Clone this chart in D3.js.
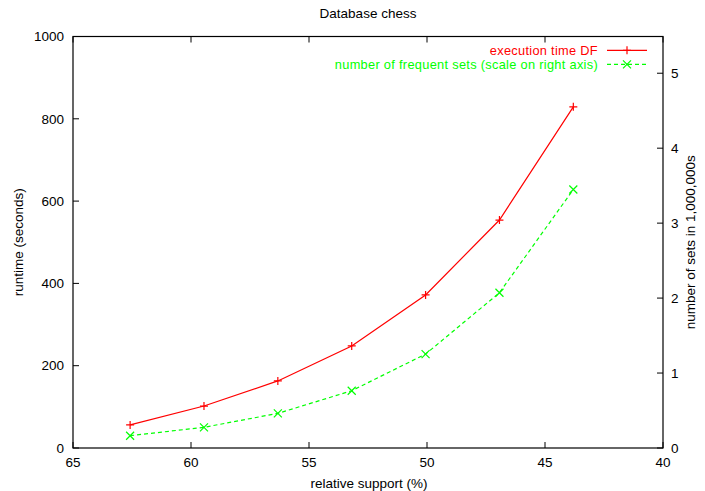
<!DOCTYPE html>
<html><head><meta charset="utf-8">
<script src="https://cdn.jsdelivr.net/npm/d3@7"></script>
<style>body{margin:0;background:#fff}svg{display:block}text{font-family:"Liberation Sans",Arial,sans-serif}</style>
</head><body><svg id="c" width="705" height="491"></svg>
<script>
const support = [62.58, 59.45, 56.32, 53.19, 50.06, 46.93, 43.80];
const runtime = [56, 102, 163, 248, 372, 554, 829];
const freqSets = [0.164, 0.276, 0.462, 0.764, 1.253, 2.071, 3.449];
const xTicks = [65, 60, 55, 50, 45, 40];
const yTicks = [0, 200, 400, 600, 800, 1000];
const y2Ticks = [0, 1, 2, 3, 4, 5];
const title = "Database chess";
const xLabel = "relative support (%)";
const yLabel = "runtime (seconds)";
const y2Label = "number of sets in 1,000,000s";
const seriesNames = ["execution time DF", "number of frequent sets (scale on right axis)"];

const svg = d3.select("#c");
const L = 73, R = 663, T = 36.5, B = 448;
const fs = 13.5;
const x = d3.scaleLinear().domain([65, 40]).range([L, R]);
const y = d3.scaleLinear().domain([0, 1000]).range([B, T]);
const y2 = d3.scaleLinear().domain([0, 5.49]).range([B, T]);
const tick = 6;

const g = svg.append("g");
xTicks.forEach(v => {
  g.append("line").attr("x1", x(v)).attr("x2", x(v)).attr("y1", B).attr("y2", B - tick).attr("stroke", "#000");
  g.append("line").attr("x1", x(v)).attr("x2", x(v)).attr("y1", T).attr("y2", T + tick).attr("stroke", "#000");
  g.append("text").attr("x", x(v)).attr("y", B + 14).attr("dy", "0.35em").attr("text-anchor", "middle").attr("font-size", fs).text(v);
});
yTicks.forEach(v => {
  g.append("line").attr("x1", L).attr("x2", L + tick).attr("y1", y(v)).attr("y2", y(v)).attr("stroke", "#000");
  g.append("text").attr("x", L - 9).attr("y", y(v)).attr("dy", "0.35em").attr("text-anchor", "end").attr("font-size", fs).text(v);
});
y2Ticks.forEach(v => {
  g.append("line").attr("x1", R).attr("x2", R - tick).attr("y1", y2(v)).attr("y2", y2(v)).attr("stroke", "#000");
  g.append("text").attr("x", R + 8).attr("y", y2(v)).attr("dy", "0.35em").attr("text-anchor", "start").attr("font-size", fs).text(v);
});
g.append("rect").attr("x", L).attr("y", T).attr("width", R - L).attr("height", B - T).attr("fill", "none").attr("stroke", "#000").attr("stroke-width", 1.2);

svg.append("text").attr("x", 368).attr("y", 13).attr("dy", "0.35em").attr("text-anchor", "middle").attr("font-size", fs).text(title);
svg.append("text").attr("x", 369).attr("y", 483).attr("dy", "0.35em").attr("text-anchor", "middle").attr("font-size", fs).text(xLabel);
svg.append("text").attr("transform", `translate(18,${(T + B) / 2}) rotate(-90)`).attr("dy", "0.35em").attr("text-anchor", "middle").attr("font-size", fs).text(yLabel);
svg.append("text").attr("transform", `translate(690,${(T + B) / 2}) rotate(-90)`).attr("dy", "0.35em").attr("text-anchor", "middle").attr("font-size", fs).text(y2Label);

const red = "#ff0000", green = "#00ff00";
const plus = (sel, cx, cy, c) => {
  sel.append("path").attr("d", `M${cx - 4},${cy}H${cx + 4}M${cx},${cy - 4}V${cy + 4}`).attr("stroke", c).attr("stroke-width", 1.2).attr("fill", "none");
};
const cross = (sel, cx, cy, c) => {
  sel.append("path").attr("d", `M${cx - 4},${cy - 4}L${cx + 4},${cy + 4}M${cx - 4},${cy + 4}L${cx + 4},${cy - 4}`).attr("stroke", c).attr("stroke-width", 1.2).attr("fill", "none");
};

const d1 = support.map((s, i) => [x(s), y(runtime[i])]);
const d2 = support.map((s, i) => [x(s), y2(freqSets[i])]);
svg.append("path").attr("d", d3.line()(d1)).attr("stroke", red).attr("fill", "none").attr("stroke-width", 1.2);
svg.append("path").attr("d", d3.line()(d2)).attr("stroke", green).attr("fill", "none").attr("stroke-width", 1.2).attr("stroke-dasharray", "4,3");
d1.forEach(p => plus(svg, p[0], p[1], red));
d2.forEach(p => cross(svg, p[0], p[1], green));

const ly = [50.3, 64.3];
const lfs = 12.8;
svg.append("text").attr("x", 598).attr("y", ly[0]).attr("dy", "0.35em").attr("text-anchor", "end").attr("font-size", lfs).attr("letter-spacing", 0.3).attr("fill", red).text(seriesNames[0]);
svg.append("text").attr("x", 598).attr("y", ly[1]).attr("dy", "0.35em").attr("text-anchor", "end").attr("font-size", lfs).attr("letter-spacing", 0.3).attr("fill", green).text(seriesNames[1]);
svg.append("line").attr("x1", 607).attr("x2", 647).attr("y1", ly[0]).attr("y2", ly[0]).attr("stroke", red).attr("stroke-width", 1.2);
plus(svg, 627, ly[0], red);
svg.append("line").attr("x1", 607).attr("x2", 647).attr("y1", ly[1]).attr("y2", ly[1]).attr("stroke", green).attr("stroke-width", 1.2).attr("stroke-dasharray", "4,3");
cross(svg, 627, ly[1], green);
</script></body></html>
